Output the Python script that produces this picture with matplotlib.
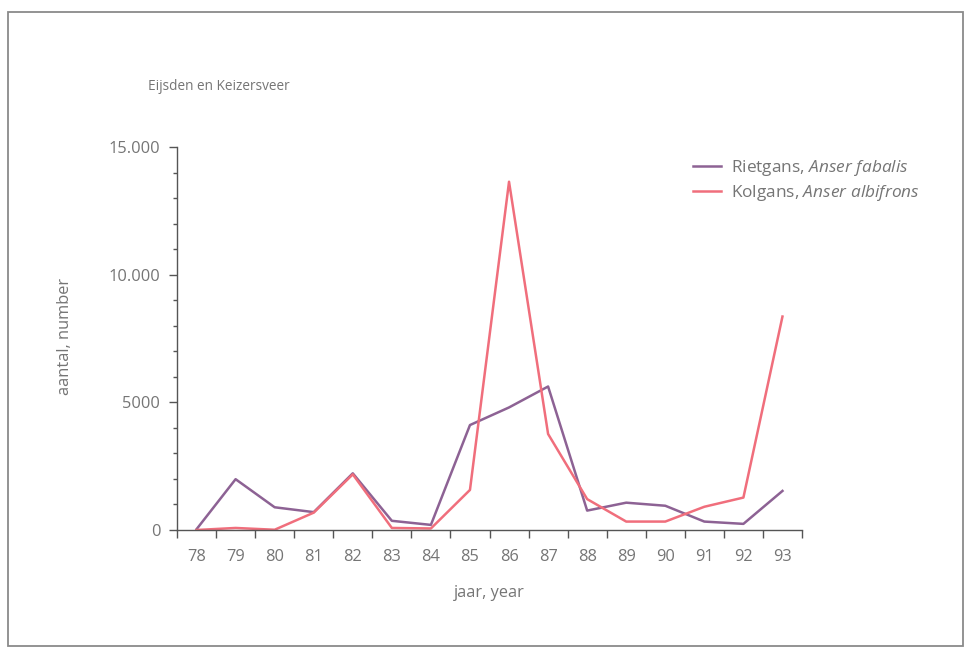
import matplotlib
matplotlib.use("Agg")
import matplotlib.pyplot as plt
from matplotlib.patches import Rectangle
from matplotlib.ticker import FixedLocator, FixedFormatter, MultipleLocator

plt.rcParams['font.family'] = ['Open Sans', 'DejaVu Sans']
plt.rcParams['mathtext.fontset'] = 'custom'
plt.rcParams['mathtext.rm'] = 'Open Sans'
plt.rcParams['mathtext.it'] = 'Open Sans:italic'

# Winter counts of geese at Eijsden and Keizersveer
years = [78, 79, 80, 81, 82, 83, 84, 85, 86, 87, 88, 89, 90, 91, 92, 93]
year_labels = ['78', '79', '80', '81', '82', '83', '84', '85',
               '86', '87', '88', '89', '90', '91', '92', '93']
rietgans = [30, 1990, 890, 700, 2220, 360, 200, 4110, 4800, 5620,
            760, 1070, 950, 330, 240, 1530]
kolgans = [0, 80, 10, 680, 2180, 80, 60, 1570, 13640, 3760,
           1210, 330, 330, 910, 1270, 8360]
y_ticks = [0, 5000, 10000, 15000]
y_tick_labels = ['0', '5000', '10.000', '15.000']

PURPLE = '#8d6294'
RED = '#f06e7c'
TEXT = '#757575'
AXIS = '#555555'
FS = 11.8

W, H = 971, 654
fig = plt.figure(figsize=(W / 100, H / 100), dpi=100)
fig.patch.set_facecolor('white')

# outer frame
fig.add_artist(Rectangle((8 / W, 1 - 646 / H), (963 - 8) / W, (646 - 12) / H,
                         transform=fig.transFigure, fill=False,
                         edgecolor='#8a8a8a', linewidth=1.3))

ax = fig.add_axes([177 / W, 1 - 530 / H, (802 - 177) / W, (530 - 147) / H])
ax.plot(years, rietgans, color=PURPLE, linewidth=1.8,
        label=r'Rietgans, $\mathit{Anser\ fabalis}$')
ax.plot(years, kolgans, color=RED, linewidth=1.8,
        label=r'Kolgans, $\mathit{Anser\ albifrons}$')

ax.set_xlim(77.5, 93.5)
ax.set_ylim(0, 15000)

for side in ('top', 'right'):
    ax.spines[side].set_visible(False)
for side in ('left', 'bottom'):
    ax.spines[side].set_color(AXIS)
    ax.spines[side].set_linewidth(1.0)

ax.yaxis.set_major_locator(FixedLocator(y_ticks))
ax.yaxis.set_major_formatter(FixedFormatter(y_tick_labels))
ax.yaxis.set_minor_locator(MultipleLocator(1000))
ax.tick_params(axis='y', which='major', direction='out', length=6, width=1,
               color=AXIS, labelcolor=TEXT, labelsize=FS, pad=6)
ax.tick_params(axis='y', which='minor', direction='out', length=3, width=1,
               color=AXIS)

# year labels sit between the tick marks
ax.xaxis.set_major_locator(FixedLocator(years))
ax.xaxis.set_major_formatter(FixedFormatter(year_labels))
ax.xaxis.set_minor_locator(FixedLocator([y - 0.5 for y in years] + [years[-1] + 0.5]))
ax.tick_params(axis='x', which='major', length=0, labelcolor=TEXT,
               labelsize=FS, pad=14)
ax.tick_params(axis='x', which='minor', direction='out', length=6, width=1,
               color=AXIS)

ax.set_xlabel('jaar, year', color=TEXT, fontsize=FS, labelpad=14)
fig.text(65 / W, 1 - 336 / H, 'aantal, number', rotation=90, color=TEXT,
         fontsize=FS, ha='center', va='center')
fig.text(148 / W, 1 - 86 / H, 'Eijsden en Keizersveer', color=TEXT,
         fontsize=9.8, ha='left', va='center')

leg = ax.legend(loc='upper left', bbox_to_anchor=(693 / W, 1 - 158 / H),
                bbox_transform=fig.transFigure, frameon=False,
                fontsize=12.4, handlelength=1.6, handletextpad=0.6,
                labelspacing=0.3, borderaxespad=0, borderpad=0)
for t in leg.get_texts():
    t.set_color(TEXT)

fig.savefig('out.png', dpi=100, facecolor='white')
